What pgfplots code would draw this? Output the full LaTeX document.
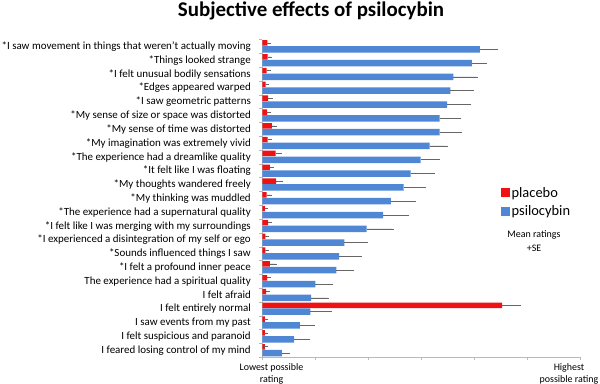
\documentclass[border=0pt]{standalone}
\usepackage{fontspec}
\setmainfont{Carlito}
\usepackage{pgfplots}
\pgfplotsset{compat=1.18}
\usepackage{pgfplotstable}
\definecolor{plac}{RGB}{238,18,18}
\definecolor{psil}{RGB}{79,135,212}
\pgfplotstableread{
y v e
22 0.094 0.04
21 0.10 0.06
20 0.08 0.045
19 0.064 0.04
18 0.11 0.06
17 0.09 0.04
16 0.18 0.06
15 0.10 0.05
14 0.25 0.09
13 0.145 0.05
12 0.26 0.11
11 0.08 0.075
10 0.05 0.025
9 0.11 0.05
8 0.06 0.03
7 0.06 0.03
6 0.145 0.10
5 0.09 0.04
4 0.07 0.04
3 4.53 0.32
2 0.05 0.02
1 0.05 0.02
0 0.05 0.02
}\placebo
\pgfplotstableread{
y v e
22 4.11 0.32
21 3.96 0.25
20 3.61 0.43
19 3.55 0.42
18 3.49 0.43
17 3.35 0.38
16 3.35 0.39
15 3.16 0.31
14 2.99 0.33
13 2.80 0.43
12 2.67 0.40
11 2.43 0.45
10 2.28 0.46
9 1.97 0.48
8 1.55 0.41
7 1.45 0.40
6 1.40 0.31
5 1.00 0.31
4 0.92 0.31
3 0.91 0.37
2 0.71 0.25
1 0.60 0.28
0 0.37 0.13
}\psilo
\begin{document}
\begin{tikzpicture}
\path[use as bounding box] (0,0) rectangle (600bp,384bp);
\begin{axis}[
  at={(262.3bp,26.7bp)}, anchor=south west,
  scale only axis, width=317.7bp, height=317.6bp,
  xbar, xmin=0, xmax=6, ymin=-0.5, ymax=22.5,
  axis lines*=left, axis line style={gray!55, line width=0.6pt},
  xtick={0,...,6}, xticklabels={},
  tick align=outside, major tick length=3bp, minor tick length=3bp,
  tick style={gray!55, line width=0.6pt},
  ytick={0,...,22},
  major y tick style={draw=none},
  minor ytick={-0.5,0.5,...,22.5},
  yticklabel style={font=\fontsize{11}{12}\selectfont, xshift=-5bp},
  yticklabels={
    {I feared losing control of my mind},
    {I felt suspicious and paranoid},
    {I saw events from my past},
    {I felt entirely normal},
    {I felt afraid},
    {The experience had a spiritual quality},
    {*I felt a  profound inner peace},
    {*Sounds influenced things I saw},
    {*I experienced a disintegration of my self or ego},
    {*I felt like I was merging with my surroundings},
    {*The experience had a supernatural quality},
    {*My thinking was muddled},
    {*My thoughts wandered freely},
    {*It felt like I was floating},
    {*The experience had a dreamlike quality},
    {*My imagination was extremely vivid},
    {*My sense of time was distorted},
    {*My sense of size or space was distorted},
    {*I saw geometric patterns},
    {*Edges appeared warped},
    {*I felt unusual bodily sensations},
    {*Things looked strange},
    {*I saw movement in things that weren’t actually moving}},
  legend style={at={(rel axis cs:0.751,0.543)}, anchor=north west, draw=none, fill=none,
    font=\fontsize{14.5}{16}\selectfont, row sep=3bp, cells={anchor=west},
    inner sep=0pt},
  legend image code/.code={\fill[#1] (0bp,-4.5bp) rectangle (8.5bp,4.5bp);},
]
\addplot[fill=plac, draw=none, bar width=5.5bp, bar shift=3.6bp,
  error bars/.cd, x dir=plus, x explicit,
  error bar style={black!60, line width=0.6pt},
  error mark options={black!60, mark size=1.6bp, line width=0.6pt}]
  table[x=v, y=y, x error=e]{\placebo};
\addlegendentry{placebo}
\addplot[fill=psil, draw=none, bar width=6.5bp, bar shift=-2.7bp,
  error bars/.cd, x dir=plus, x explicit,
  error bar style={black!60, line width=0.6pt},
  error mark options={black!60, mark size=1.6bp, line width=0.6pt}]
  table[x=v, y=y, x error=e]{\psilo};
\addlegendentry{psilocybin}
\end{axis}
\node[font=\bfseries\fontsize{21}{23}\selectfont] at (311bp,373bp) {Subjective effects of psilocybin};
\node[font=\fontsize{10}{14}\selectfont, align=center] at (534bp,143bp) {Mean ratings\\+SE};
\node[font=\fontsize{10}{12}\selectfont, align=center] at (271.5bp,10bp) {Lowest possible\\rating};
\node[font=\fontsize{10}{12}\selectfont, align=center] at (569bp,10bp) {Highest\\possible rating};
\end{tikzpicture}
\end{document}
